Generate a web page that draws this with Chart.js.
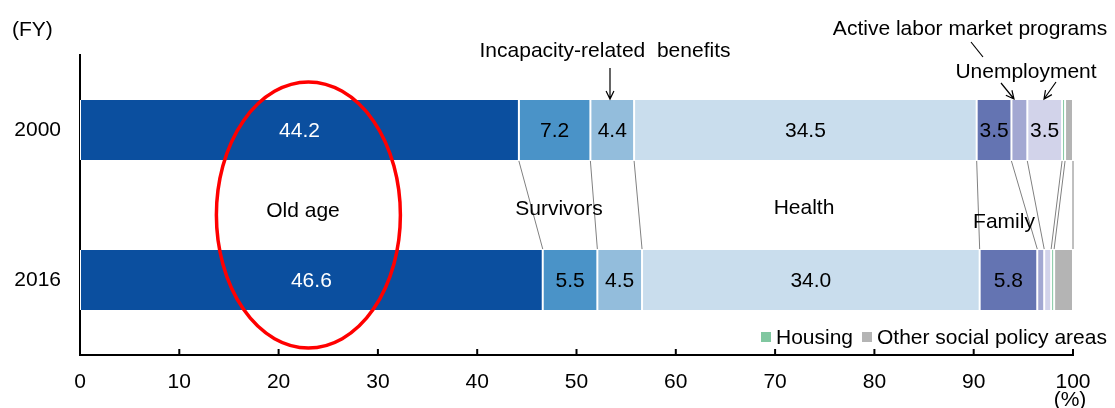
<!DOCTYPE html>
<html>
<head>
<meta charset="utf-8">
<script src="https://cdn.jsdelivr.net/npm/chart.js@4.4.0/dist/chart.umd.min.js"></script>
<style>
  body { margin: 0; background: #fff; }
  #wrap { width: 1115px; height: 408px; position: relative; }
</style>
</head>
<body>
<div id="wrap"><canvas id="chart"></canvas></div>
<script>
// categories and series
const years = ['2000', '2016'];
const seriesNames = ['Old age', 'Survivors', 'Incapacity-related benefits', 'Health', 'Family',
  'Active labor market programs', 'Unemployment', 'Housing', 'Other social policy areas'];
const oldAge = [44.2, 46.6];
const survivors = [7.2, 5.5];
const incapacity = [4.4, 4.5];
const health = [34.5, 34.0];
const family = [3.5, 5.8];
const almp = [1.6, 0.7];
const unemployment = [3.5, 0.7];
const housing = [0.3, 0.3];
const other = [0.8, 1.9];
const xTicks = [0, 10, 20, 30, 40, 50, 60, 70, 80, 90, 100];

const colors = ['#0B4F9F', '#4A93C8', '#93BDDC', '#C9DDED', '#6474B2', '#A3A8D2', '#D2D3EA', '#80C7A0', '#B4B4B4'];
const allSeries = [oldAge, survivors, incapacity, health, family, almp, unemployment, housing, other];

const FONT = '"Liberation Sans", Arial, sans-serif';
const FS = 21;

const datasets = allSeries.map((vals, i) => ({
  label: seriesNames[i],
  data: vals,
  backgroundColor: colors[i],
  borderColor: '#ffffff',
  borderWidth: { left: 1, right: 1, top: 0, bottom: 0 },
  borderSkipped: false,
  barPercentage: 0.8,
  categoryPercentage: 0.5
}));

// labels, arrows, connectors, ellipse, legend
const decorations = {
  id: 'decorations',
  afterDatasetsDraw(chart) {
    const ctx = chart.ctx;
    const xs = chart.scales.x;
    const area = chart.chartArea;
    ctx.save();

    // connector lines between the two bars
    const m0 = chart.getDatasetMeta(0).data;
    const y0 = m0[0].y + m0[0].height / 2;
    const y1 = m0[1].y - m0[1].height / 2;
    ctx.strokeStyle = '#808080';
    ctx.lineWidth = 1;
    for (let d = 0; d < allSeries.length; d++) {
      const el = chart.getDatasetMeta(d).data;
      ctx.beginPath();
      ctx.moveTo(el[0].x, y0 + 1);
      ctx.lineTo(el[1].x, y1 - 1);
      ctx.stroke();
    }

    // value labels inside the segments
    ctx.font = FS + 'px ' + FONT;
    ctx.textAlign = 'center';
    ctx.textBaseline = 'middle';
    allSeries.forEach((vals, d) => {
      const el = chart.getDatasetMeta(d).data;
      vals.forEach((v, i) => {
        if (v < 3) return;
        const e = el[i];
        ctx.fillStyle = d === 0 ? '#ffffff' : '#000000';
        ctx.fillText(v.toFixed(1), (e.x + e.base) / 2, e.y + 1);
      });
    });

    // inward tick marks on the x axis
    ctx.strokeStyle = '#000';
    ctx.lineWidth = 2;
    xTicks.forEach(t => {
      if (t === 0) return;
      const px = xs.getPixelForValue(t);
      ctx.beginPath();
      ctx.moveTo(px, area.bottom);
      ctx.lineTo(px, area.bottom - 6);
      ctx.stroke();
    });

    // category names
    ctx.fillStyle = '#000';
    ctx.fillText('Old age', 303, 211);
    ctx.fillText('Survivors', 559, 209);
    ctx.fillText('Health', 804, 208);
    ctx.fillText('Family', 1004, 222);
    ctx.fillText('Incapacity-related  benefits', 605, 51);
    ctx.fillText('Active labor market programs', 970, 29);
    ctx.fillText('Unemployment', 1026, 72);
    ctx.textAlign = 'left';
    ctx.fillText('(FY)', 12, 30);
    ctx.textAlign = 'center';
    ctx.fillText('(%)', 1070, 400);

    // arrows
    ctx.strokeStyle = '#000';
    ctx.lineWidth = 1.2;
    function arrow(xa, ya, xb, yb) {
      ctx.beginPath();
      ctx.moveTo(xa, ya);
      ctx.lineTo(xb, yb);
      const ang = Math.atan2(yb - ya, xb - xa);
      const h = 9;
      ctx.moveTo(xb - h * Math.cos(ang - 0.45), yb - h * Math.sin(ang - 0.45));
      ctx.lineTo(xb, yb);
      ctx.lineTo(xb - h * Math.cos(ang + 0.45), yb - h * Math.sin(ang + 0.45));
      ctx.stroke();
    }
    arrow(610, 68, 610, 99);
    arrow(1001, 83, 1014, 99);
    arrow(1056, 82, 1044, 99);
    ctx.beginPath();
    ctx.moveTo(971, 42);
    ctx.lineTo(983, 57);
    ctx.stroke();

    // red ellipse around old age
    ctx.strokeStyle = '#FF0000';
    ctx.lineWidth = 3.5;
    ctx.beginPath();
    ctx.ellipse(xs.getPixelForValue(23), 215, 92, 133, 0, 0, Math.PI * 2);
    ctx.stroke();

    // legend for the two thin series
    ctx.textAlign = 'left';
    ctx.textBaseline = 'middle';
    ctx.fillStyle = colors[7];
    ctx.fillRect(761, 332, 10, 10);
    ctx.fillStyle = '#000';
    ctx.fillText(seriesNames[7], 776, 338);
    ctx.fillStyle = colors[8];
    ctx.fillRect(862, 332, 10, 10);
    ctx.fillStyle = '#000';
    ctx.fillText(seriesNames[8], 877, 338);

    ctx.restore();
  }
};

new Chart(document.getElementById('chart'), {
  type: 'bar',
  data: { labels: years, datasets: datasets },
  options: {
    indexAxis: 'y',
    responsive: true,
    maintainAspectRatio: false,
    animation: false,
    layout: { padding: { top: 55, right: 42, left: 0, bottom: 0 } },
    plugins: {
      legend: { display: false },
      tooltip: { enabled: false }
    },
    scales: {
      x: {
        stacked: true,
        min: 0,
        max: 100,
        afterFit(axis) { axis.height = 53; },
        afterBuildTicks(axis) { axis.ticks = xTicks.map(v => ({ value: v })); },
        grid: { display: false, drawTicks: false },
        border: { display: true, color: '#000', width: 2 },
        ticks: { color: '#000', font: { family: FONT, size: FS }, padding: 15 }
      },
      y: {
        stacked: true,
        afterFit(axis) { axis.width = 80; },
        grid: { display: false, drawTicks: false },
        border: { display: true, color: '#000', width: 2 },
        ticks: { color: '#000', font: { family: FONT, size: FS }, padding: 19 }
      }
    }
  },
  plugins: [decorations]
});
</script>
</body>
</html>
